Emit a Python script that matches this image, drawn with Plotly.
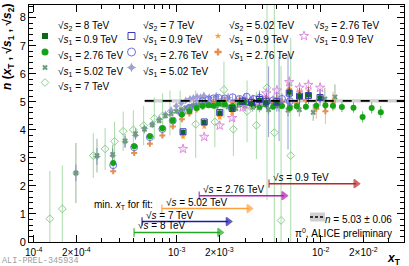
import numpy as np
import plotly.graph_objects as go

# ---------------- data ----------------
# common xT grid of the 0.9 TeV data
x_09 = [1.11e-3, 1.56e-3, 2.0e-3, 2.44e-3, 2.89e-3, 3.33e-3, 3.78e-3, 4.22e-3, 5.0e-3, 6.1e-3, 7.2e-3, 8.3e-3, 1.0e-2]
n_8_09 = [3.91, 4.26, 4.60, 4.74, 4.98, 4.93, 5.05, 4.97, 4.95, 5.34, 5.19, 5.24, 5.13]
e_8_09 = [0.08, 0.08, 0.09, 0.10, 0.10, 0.12, 0.12, 0.15, 0.15, 0.18, 0.15, 0.15, 0.15]
n_7_09 = [3.93, 4.28, 4.62, 4.76, 5.02, 4.98, 5.08, 5.02, 5.00, 5.31, 5.20, 5.22, 5.15]
e_7_09 = [0.10, 0.10, 0.12, 0.12, 0.15, 0.20, 0.25, 0.30, 0.35, 0.40, 0.30, 0.30, 0.30]
n_502_09 = [3.76, 4.12, 4.45, 4.62, 4.95, 5.00, 5.05, 5.10, 5.12, 5.45, 5.35, 5.40, 5.22]
e_502_09 = [0.08, 0.08, 0.09, 0.10, 0.10, 0.12, 0.12, 0.15, 0.15, 0.18, 0.15, 0.15, 0.15]
n_276_09 = [3.32, 3.75, 4.15, 4.42, 4.80, 4.90, 5.00, 5.30, 5.40, 5.70, 5.50, 5.60, 5.50]
e_276_09 = [0.10, 0.10, 0.12, 0.12, 0.15, 0.15, 0.18, 0.20, 0.20, 0.22, 0.20, 0.20, 0.20]

# common xT grid of the 2.76 TeV data
x_276 = [3.62e-4, 5.07e-4, 6.52e-4, 7.97e-4, 9.42e-4, 1.09e-3, 1.23e-3, 1.38e-3, 1.52e-3, 1.67e-3,
         1.81e-3, 1.96e-3, 2.17e-3, 2.46e-3, 2.75e-3, 3.08e-3, 3.44e-3, 3.80e-3, 4.17e-3, 4.71e-3,
         5.43e-3, 6.16e-3, 6.88e-3, 7.97e-3, 9.42e-3, 1.09e-2, 1.23e-2, 1.42e-2, 1.71e-2, 1.98e-2,
         2.29e-2, 2.65e-2]
n_8_276 = [2.82, 3.41, 3.77, 4.06, 4.33, 4.55, 4.66, 4.78, 4.85, 4.88,
           4.86, 4.93, 4.90, 4.85, 4.90, 4.95, 4.86, 4.83, 4.90, 4.82,
           4.85, 4.78, 4.84, 4.82, 4.86, 4.88, 4.86, 4.81, 4.79, 4.46,
           4.78, 4.63]
e_8_276 = [0.08, 0.07, 0.07, 0.07, 0.07, 0.07, 0.07, 0.07, 0.07, 0.07,
           0.07, 0.07, 0.07, 0.08, 0.08, 0.08, 0.08, 0.09, 0.09, 0.10,
           0.10, 0.10, 0.12, 0.12, 0.14, 0.15, 0.16, 0.18, 0.18, 0.20,
           0.20, 0.22]
n_7_276 = [2.74, 3.38, 3.74, 4.03, 4.33, 4.60, 4.78, 4.92, 5.02, 5.08,
           5.12, 5.14, 5.12, 5.16, 5.10, 5.18, 5.10, 5.14, 5.08, 5.05,
           5.10, 5.02]
e_7_276 = [0.10, 0.09, 0.09, 0.09, 0.09, 0.09, 0.09, 0.09, 0.10, 0.10,
           0.10, 0.10, 0.11, 0.12, 0.12, 0.13, 0.14, 0.15, 0.16, 0.18,
           0.20, 0.22]
n_502_276 = [2.52, 3.17, 3.50, 3.80, 4.12, 4.38, 4.58, 4.72, 4.82, 4.92,
             4.98, 5.02, 5.05, 4.98, 5.08, 5.04, 4.96, 5.04, 5.00, 4.95,
             5.00, 4.85, 4.95, 5.05, 4.75, 4.66, 5.01]
e_502_276 = [0.10, 0.09, 0.09, 0.09, 0.09, 0.09, 0.09, 0.09, 0.10, 0.10,
             0.10, 0.10, 0.11, 0.12, 0.12, 0.13, 0.14, 0.15, 0.16, 0.18,
             0.20, 0.22, 0.25, 0.30, 0.35, 0.45, 0.35]

# common xT grid of the 5.02 TeV data
x_502 = [1.99e-4, 2.79e-4, 3.59e-4, 4.38e-4, 5.18e-4, 5.98e-4, 6.77e-4, 7.57e-4, 8.37e-4, 9.16e-4,
         9.96e-4, 1.08e-3, 1.16e-3, 1.24e-3, 1.31e-3, 1.39e-3, 1.47e-3, 1.55e-3, 1.69e-3, 1.89e-3,
         2.09e-3, 2.29e-3, 2.59e-3, 2.99e-3, 3.39e-3, 3.78e-3, 4.38e-3, 5.18e-3, 5.98e-3, 7.17e-3,
         8.96e-3, 1.08e-2, 1.27e-2]
n_8_502 = [2.46, 3.08, 3.12, 3.60, 3.86, 4.02, 4.18, 4.33, 4.50, 4.58,
           4.66, 4.72, 4.78, 4.83, 4.86, 4.88, 4.90, 4.93, 4.88, 4.84,
           4.90, 4.82, 4.76, 4.85, 4.80, 4.78, 4.72, 4.85, 4.70, 4.72,
           4.62, 5.10, 5.17]
e_8_502 = [1.07, 0.60, 0.35, 0.25, 0.20, 0.15, 0.12, 0.10, 0.10, 0.10,
           0.10, 0.10, 0.10, 0.10, 0.10, 0.10, 0.10, 0.10, 0.10, 0.11,
           0.12, 0.12, 0.13, 0.14, 0.15, 0.16, 0.18, 0.20, 0.22, 0.25,
           0.30, 0.40, 0.45]
n_7_502 = [2.46, 3.05, 3.08, 3.58, 3.80, 4.05, 4.20, 4.38, 4.55, 4.70,
           4.85, 4.95, 5.05, 5.10, 5.14, 5.18, 5.16, 5.22, 5.15, 5.20,
           5.10, 5.15, 5.05, 5.10, 5.00, 5.05, 5.00, 5.10, 5.00]
e_7_502 = [0.30, 0.30, 0.25, 0.20, 0.15, 0.12, 0.10, 0.10, 0.10, 0.10,
           0.10, 0.10, 0.10, 0.10, 0.10, 0.10, 0.10, 0.12, 0.12, 0.13,
           0.14, 0.15, 0.18, 0.20, 0.25, 0.35, 1.26, 1.50, 1.70]

# 7 TeV data (sqrt(s2) = 8 TeV)
x_7 = [1.31e-4, 1.60e-4, 2.63e-4, 3.18e-4, 3.70e-4, 4.25e-4, 5.0e-4, 5.9e-4, 7.0e-4, 8.0e-4,
       9.0e-4, 1.06e-3, 1.36e-3, 1.85e-3, 2.14e-3, 2.49e-3, 3.10e-3, 3.60e-3, 4.27e-3, 4.80e-3,
       5.35e-3, 6.25e-3]
n_8_7 = [0.83, 1.18, 3.08, 3.32, 3.59, 3.95, 4.00, 4.15, 4.40, 4.50,
         4.60, 4.60, 4.20, 4.28, 5.43, 4.02, 4.66, 4.16, 5.50, 3.90,
         0.77, 3.08]
e_8_7 = [1.70, 1.55, 0.80, 0.75, 0.70, 0.70, 0.70, 0.70, 0.75, 0.80,
         0.80, 0.80, 1.20, 0.90, 1.00, 0.95, 1.10, 1.20, 4.00, 5.00,
         5.50, 4.20]

# fit
fit_n = 5.03
fit_err = 0.06
fit_xmin = 6.0e-4

# minimum xT for fit
arrow_labels = ["0.9", "2.76", "5.02", "7", "8"]
arrow_xmin = [4.41e-3, 1.44e-3, 7.9e-4, 5.75e-4, 5.06e-4]
arrow_xmax = [1.78e-2, 5.6e-3, 3.2e-3, 2.29e-3, 2.0e-3]
arrow_level = [2.08, 1.65, 1.19, 0.73, 0.34]
arrow_colors = ["#b8282a", "#b01cb0", "#ffa040", "#1c1ca8", "#22a822"]

x_tickvals = [1e-4, 2e-4, 1e-3, 2e-3, 1e-2, 2e-2]
x_ticktext = ["10<sup>-4</sup>", "2×10<sup>-4</sup>", "10<sup>-3</sup>", "2×10<sup>-3</sup>",
              "10<sup>-2</sup>", "2×10<sup>-2</sup>"]
x_minor = [3e-4, 4e-4, 5e-4, 6e-4, 7e-4, 8e-4, 9e-4, 3e-3, 4e-3, 5e-3, 6e-3, 7e-3, 8e-3, 9e-3, 3e-2]

# ---------------- style ----------------
FONT = "Liberation Sans"
X_RANGE = [-4.028, -1.415]
Y_RANGE = [0, 8.45]

C_DKGREEN = "#0c6a14"
C_GREEN = "#14a314"
C_GRAYGREEN = "#6c9c7c"
C_LTGREEN = "#8ccf8c"
C_BLUE = "#3a3ab8"
C_BLUECIRC = "#7070e0"
C_LAV = "#a0a0d4"
C_ORANGE = "#ff9a2e"
C_TAN = "#e39050"
C_PINK = "#dc8ee0"

fig = go.Figure()


def add_series(x, y, e, symbol, color, size, ecolor, lw=1.0, open_=False):
    marker = dict(symbol=symbol, size=size, color=color)
    if open_:
        marker["line"] = dict(color=color, width=lw)
    else:
        marker["line"] = dict(width=0)
    fig.add_trace(go.Scatter(
        x=x, y=y, mode="markers", marker=marker,
        error_y=dict(type="data", array=e, color=ecolor, thickness=1, width=0),
        showlegend=False, hoverinfo="skip", cliponaxis=True))


# fit band + line
x_right = 10 ** X_RANGE[1]
fig.add_trace(go.Scatter(
    x=[fit_xmin, x_right, x_right, fit_xmin, fit_xmin],
    y=[fit_n - fit_err, fit_n - fit_err, fit_n + fit_err, fit_n + fit_err, fit_n - fit_err],
    mode="lines", fill="toself", fillcolor="rgba(150,150,150,0.45)",
    line=dict(width=0), showlegend=False, hoverinfo="skip"))

# data (bottom -> top)
add_series(x_7, n_8_7, e_8_7, "diamond-open", C_LTGREEN, 6, "rgba(140,207,140,0.75)", open_=True)
add_series(x_502[:len(n_7_502)], n_7_502, e_7_502, "star-diamond", C_LAV, 6, "rgba(130,130,210,0.8)")
add_series(x_502, n_8_502, e_8_502, "x", C_GRAYGREEN, 5, "rgba(100,150,110,0.7)")
add_series(x_276[:len(n_502_276)], n_502_276, e_502_276, "cross", C_TAN, 5, "rgba(227,144,80,0.6)")
add_series(x_276[:len(n_7_276)], n_7_276, e_7_276, "circle-open", C_BLUECIRC, 7, "rgba(110,110,224,0.7)", open_=True)
add_series(x_276, n_8_276, e_8_276, "circle", C_GREEN, 6, "rgba(20,163,20,0.7)")
add_series(x_09, n_276_09, e_276_09, "star-open", C_PINK, 7, "rgba(220,142,224,0.7)", open_=True)
add_series(x_09, n_502_09, e_502_09, "star", C_ORANGE, 5, "rgba(255,154,46,0.7)")
add_series(x_09, n_8_09, e_8_09, "square", C_DKGREEN, 5, "rgba(12,106,20,0.7)")
add_series(x_09, n_7_09, e_7_09, "square-open", C_BLUE, 6, "rgba(58,58,184,0.6)", open_=True)

fig.add_trace(go.Scatter(
    x=[fit_xmin, x_right], y=[fit_n, fit_n], mode="lines",
    line=dict(color="black", width=1.6, dash="dash"), showlegend=False, hoverinfo="skip"))

# arrows: min xT for fit
annotations = []
for lab, x0, x1, lv, col in zip(arrow_labels, arrow_xmin, arrow_xmax, arrow_level, arrow_colors):
    fig.add_trace(go.Scatter(
        x=[x0, x1], y=[lv, lv], mode="lines+markers",
        line=dict(color=col, width=1.5),
        marker=dict(symbol=["line-ns-open", "triangle-right"], size=[6, 7], color=col,
                    line=dict(color=col, width=1.5)),
        showlegend=False, hoverinfo="skip"))
    annotations.append(dict(
        x=np.log10(x0), y=lv, xref="x", yref="y", text="√<i>s</i> = " + lab + " TeV",
        showarrow=False, xanchor="left", yanchor="bottom", xshift=2, yshift=-1,
        font=dict(family=FONT, size=10, color="black")))

# ---------------- legend (drawn manually) ----------------
L, W, T, H = 29, 375, 5, 237.0


def px(xp):
    return (xp - L) / W


def py(yp):
    return (T + H - yp) / H


# x tick labels as annotations (placed on the x scale)
for v, t in zip(x_tickvals, x_ticktext):
    annotations.append(dict(
        x=np.log10(v), y=py(251.5), xref="x", yref="paper", text=t, showarrow=False,
        xanchor="center", yanchor="middle", borderpad=0,
        font=dict(family=FONT, size=10, color="black")))


def sq(i, j):
    return "√<i>s</i><sub>%d</sub> = %s TeV" % (i, j)


rows_text = [25.5, 40.0, 56.0, 71.5, 86.5]
rows_mark = [None, 36.0, 52.0, 67.5, 82.5]
legend_cols = [
    (45, 56, [None, ("square", C_DKGREEN, 6, False), ("circle", C_GREEN, 7, False),
              ("x", C_GRAYGREEN, 5, False), ("diamond-open", C_LTGREEN, 6, True)],
     [sq(2, "8"), sq(1, "0.9"), sq(1, "2.76"), sq(1, "5.02"), sq(1, "7")]),
    (131.5, 141, [None, ("square-open", C_BLUE, 7, True), ("circle-open", C_BLUECIRC, 8, True),
                  ("star-diamond", C_LAV, 7, False)],
     [sq(2, "7"), sq(1, "0.9"), sq(1, "2.76"), sq(1, "5.02")]),
    (218, 227, [None, ("star", C_ORANGE, 5, False), ("cross", C_TAN, 6, False)],
     [sq(2, "5.02"), sq(1, "0.9"), sq(1, "2.76")]),
    (304, 312, [None, ("star-open", C_PINK, 7, True)],
     [sq(2, "2.76"), sq(1, "0.9")]),
]
for mx, tx, marks, texts in legend_cols:
    for k, (m, t) in enumerate(zip(marks, texts)):
        annotations.append(dict(
            x=px(tx), y=py(rows_text[k]), xref="paper", yref="paper", text=t, showarrow=False,
            xanchor="left", yanchor="middle", font=dict(family=FONT, size=10, color="black")))
        if m is not None:
            sym, col, sz, op = m
            mk = dict(symbol=sym, size=sz, color=col)
            mk["line"] = dict(color=col, width=1) if op else dict(width=0)
            fig.add_trace(go.Scatter(x=[px(mx)], y=[py(rows_mark[k])], mode="markers",
                                     marker=mk, xaxis="x2", yaxis="y2",
                                     showlegend=False, hoverinfo="skip"))

# fit legend symbol
shapes = [
    dict(type="rect", xref="paper", yref="paper", x0=px(310), x1=px(325), y0=py(221.5), y1=py(212.5),
         fillcolor="rgba(150,150,150,0.45)", line=dict(width=0)),
    dict(type="line", xref="paper", yref="paper", x0=px(310), x1=px(325), y0=py(217), y1=py(217),
         line=dict(color="black", width=1.6, dash="3px,2px")),
]

annotations += [
    dict(x=px(394), y=py(219), xref="paper", yref="paper", text="<i>n</i> = 5.03 ± 0.06",
         showarrow=False, xanchor="right", yanchor="middle", font=dict(family=FONT, size=10, color="black")),
    dict(x=px(394), y=py(233), xref="paper", yref="paper", text="π<sup>0</sup>, ALICE preliminary",
         showarrow=False, xanchor="right", yanchor="middle", font=dict(family=FONT, size=10, color="black")),
    dict(x=px(155), y=py(205), xref="paper", yref="paper", text="min. <i>x</i><sub>T</sub> for fit:",
         showarrow=False, xanchor="right", yanchor="middle", font=dict(family=FONT, size=10, color="black")),
    dict(x=px(8), y=py(2), xref="paper", yref="paper",
         text="<b><i>n</i> (<i>x</i><sub>T</sub> , √<i>s</i><sub>1</sub> , √<i>s</i><sub>2</sub>)</b>",
         textangle=-90, showarrow=False, xanchor="center", yanchor="top",
         font=dict(family=FONT, size=12, color="black")),
    dict(x=px(402), y=py(259), xref="paper", yref="paper", text="<b><i>x</i><sub>T</sub></b>",
         showarrow=False, xanchor="right", yanchor="middle", borderpad=0,
         font=dict(family=FONT, size=12, color="black")),
    dict(x=px(1), y=py(261), xref="paper", yref="paper", text="ALI-PREL-345934",
         showarrow=False, xanchor="left", yanchor="middle", borderpad=0,
         font=dict(family="Liberation Mono", size=8.5, color="#a0a0a0")),
]

fig.update_layout(
    width=409, height=266,
    margin=dict(l=29, r=5, t=5, b=24, pad=0),
    paper_bgcolor="white", plot_bgcolor="white",
    showlegend=False,
    font=dict(family=FONT, size=10, color="black"),
    xaxis=dict(type="log", range=X_RANGE, tickvals=x_tickvals, ticktext=x_ticktext,
               showticklabels=False, automargin=False,
               ticks="inside", ticklen=7, tickwidth=1, tickcolor="black",
               minor=dict(tickvals=x_minor, ticks="inside", ticklen=4, tickcolor="black"),
               showline=True, linecolor="black", linewidth=1, mirror="allticks",
               showgrid=False, zeroline=False),
    yaxis=dict(range=Y_RANGE, dtick=1, tick0=0, ticks="inside", ticklen=7, tickwidth=1,
               tickcolor="black", automargin=False,
               minor=dict(dtick=0.2, ticks="inside", ticklen=4, tickcolor="black"),
               showline=True, linecolor="black", linewidth=1, mirror="allticks",
               showgrid=False, zeroline=False, tickfont=dict(family=FONT, size=11)),
    xaxis2=dict(overlaying="x", range=[0, 1], visible=False),
    yaxis2=dict(overlaying="y", range=[0, 1], visible=False),
    annotations=annotations,
    shapes=shapes,
)

fig.write_html("out.html", config={"displayModeBar": False},
               post_script="document.body.style.margin='0px';document.body.style.padding='0px';")
